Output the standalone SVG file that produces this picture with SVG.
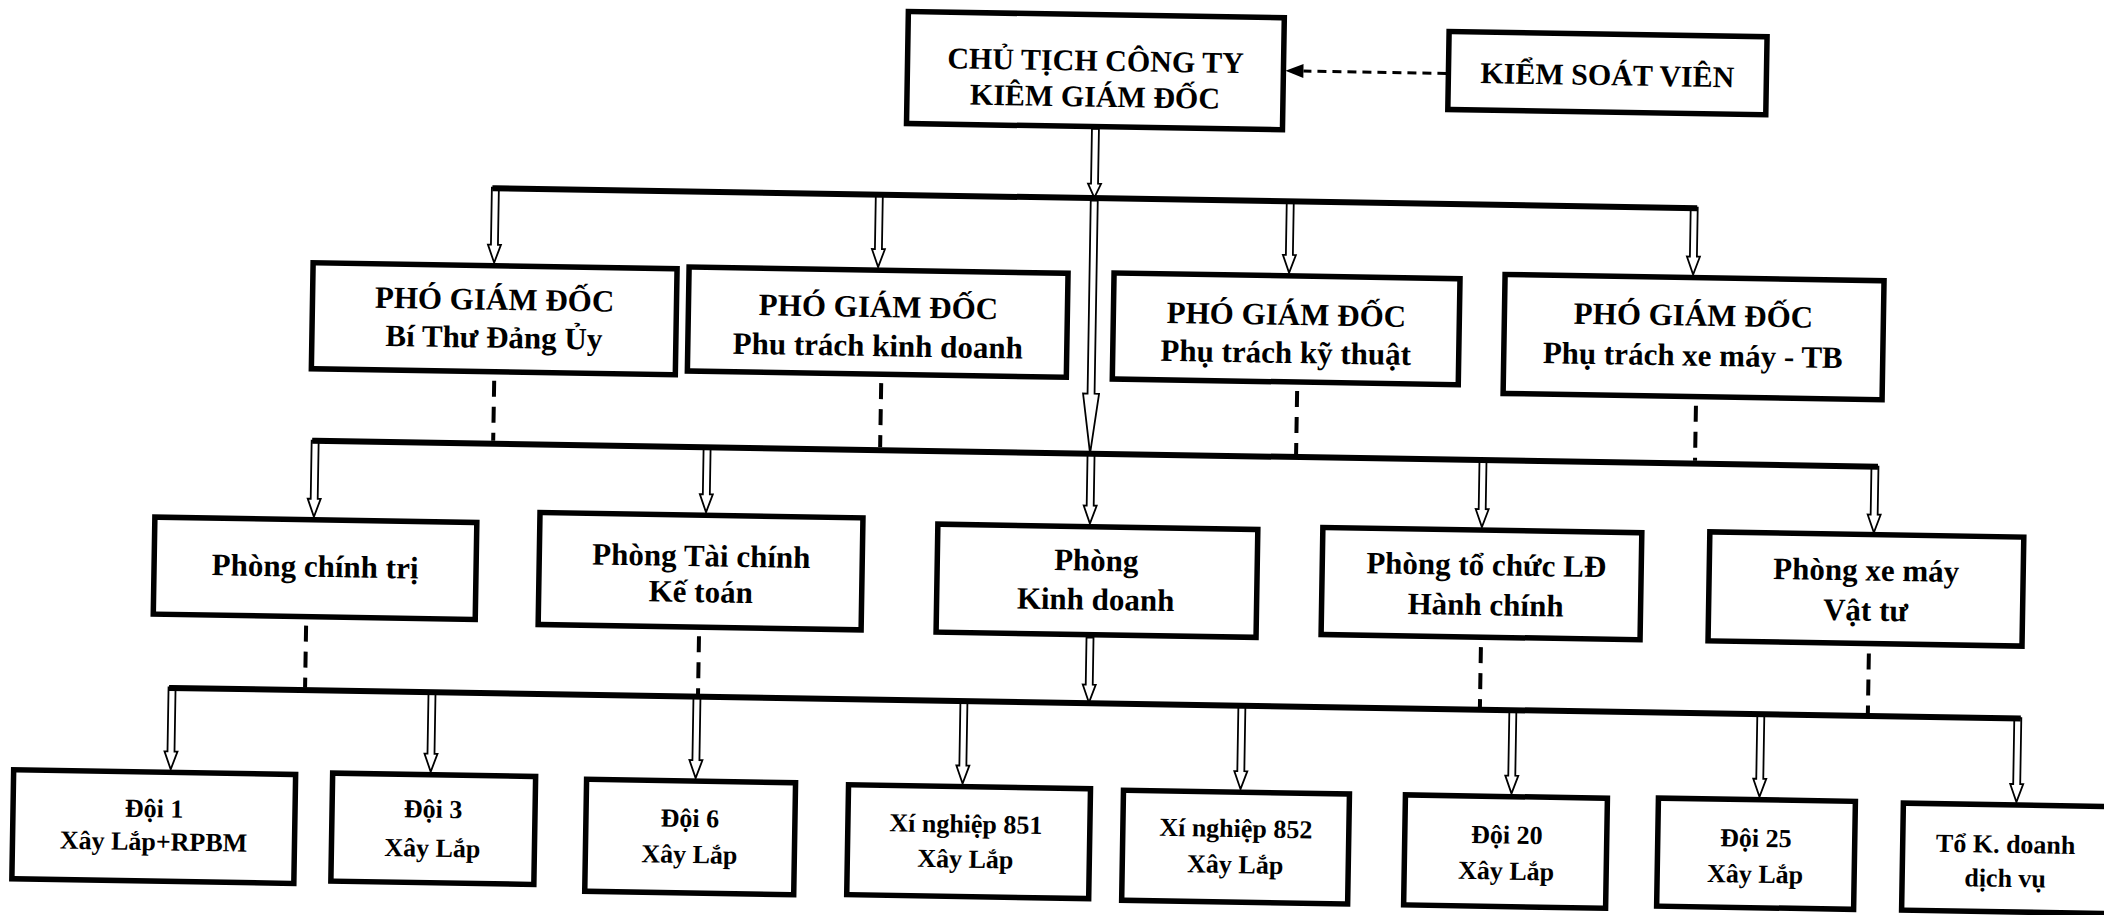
<svg xmlns="http://www.w3.org/2000/svg" width="2104" height="915" viewBox="0 0 2104 915">
<style>
.box{fill:#fff;stroke:#000;stroke-width:5.5}
.t{font-family:"Liberation Serif","Times New Roman",serif;font-weight:bold;text-anchor:middle;fill:#000}
.t1{font-size:30px}
.t2{font-size:31px}
.t3{font-size:26px}
.bus{stroke:#000;stroke-width:6;fill:none;stroke-linecap:square}
.dash{stroke:#000;stroke-width:4;stroke-dasharray:16 10;fill:none}
.kdash{stroke:#000;stroke-width:3;stroke-dasharray:9 6;fill:none}
.arr{fill:#fff;stroke:#000;stroke-width:1.8}
</style>
<rect width="2104" height="915" fill="#fff"/>
<g transform="rotate(0.95 1052 457)">
<g id="connectors">
<path class="arr" d="M1086.5 128 V183 H1083.5 L1090 197 L1096.5 183 H1093.5 V128 Z"/>
<path class="arr" d="M1086.5 200 V393 H1082 L1090 453 L1098 393 H1093.5 V200 Z"/>
<path class="arr" d="M487.5 197 V254 H484.5 L491 272 L497.5 254 H494.5 V197 Z"/>
<path class="arr" d="M871.5 197 V252 H868.5 L875 270 L881.5 252 H878.5 V197 Z"/>
<path class="arr" d="M1282.5 197 V251 H1279.5 L1286 269 L1292.5 251 H1289.5 V197 Z"/>
<path class="arr" d="M1686.5 197 V246 H1683.5 L1690 264 L1696.5 246 H1693.5 V197 Z"/>
<path class="arr" d="M311.5 453 V511 H308.5 L315 529 L321.5 511 H318.5 V453 Z"/>
<path class="arr" d="M703.5 453 V500 H700.5 L707 518 L713.5 500 H710.5 V453 Z"/>
<path class="arr" d="M1087.5 453 V505 H1084.5 L1091 523 L1097.5 505 H1094.5 V453 Z"/>
<path class="arr" d="M1479.5 453 V502 H1476.5 L1483 520 L1489.5 502 H1486.5 V453 Z"/>
<path class="arr" d="M1871.5 453 V501 H1868.5 L1875 519 L1881.5 501 H1878.5 V453 Z"/>
<path class="arr" d="M1089.5 637 V684 H1086.5 L1093 702 L1099.5 684 H1096.5 V637 Z"/>
<path class="arr" d="M172.5 702 V766 H169.5 L176 784 L182.5 766 H179.5 V702 Z"/>
<path class="arr" d="M432.5 702 V764 H429.5 L436 782 L442.5 764 H439.5 V702 Z"/>
<path class="arr" d="M697.5 702 V766 H694.5 L701 784 L707.5 766 H704.5 V702 Z"/>
<path class="arr" d="M964.5 702 V767 H961.5 L968 785 L974.5 767 H971.5 V702 Z"/>
<path class="arr" d="M1242.5 702 V768 H1239.5 L1246 786 L1252.5 768 H1249.5 V702 Z"/>
<path class="arr" d="M1513.5 702 V768 H1510.5 L1517 786 L1523.5 768 H1520.5 V702 Z"/>
<path class="arr" d="M1761.5 702 V767 H1758.5 L1765 785 L1771.5 767 H1768.5 V702 Z"/>
<path class="arr" d="M2018.5 702 V768 H2015.5 L2022 786 L2028.5 768 H2025.5 V702 Z"/>
<path class="bus" d="M491 197.5 H1690"/>
<path class="bus" d="M315 453 H1875"/>
<path class="bus" d="M176 702.5 H2022"/>
<path class="dash" d="M493 390 V450 M880 386 V450 M1296 387 V450 M1695 395 V450"/>
<path class="dash" d="M309 638 V700 M702 642 V700 M1484 640 V700 M1872 640 V700"/>
<path class="kdash" d="M1440 67 H1297"/>
<polygon points="1279,67 1297,60 1297,74" fill="#000"/>
</g>
<g id="chu-tich">
<rect class="box" x="901" y="14" width="376" height="112"/>
<text class="t t1" x="1089" y="70">CHỦ TỊCH CÔNG TY</text>
<text class="t t1" x="1089" y="106">KIÊM GIÁM ĐỐC</text>
</g>
<g id="kiem-soat-vien">
<rect class="box" x="1442" y="25" width="318" height="78"/>
<text class="t t1" x="1601" y="76">KIỂM SOÁT VIÊN</text>
</g>
<g id="pgd1">
<rect class="box" x="310" y="275" width="364" height="106"/>
<text class="t t2" x="492" y="319">PHÓ GIÁM ĐỐC</text>
<text class="t t2" x="492" y="357">Bí Thư Đảng Ủy</text>
</g>
<g id="pgd2">
<rect class="box" x="686" y="273" width="379" height="104"/>
<text class="t t2" x="876" y="320">PHÓ GIÁM ĐỐC</text>
<text class="t t2" x="876" y="359">Phu trách kinh doanh</text>
</g>
<g id="pgd3">
<rect class="box" x="1111" y="272" width="346" height="106"/>
<text class="t t2" x="1284" y="321">PHÓ GIÁM ĐỐC</text>
<text class="t t2" x="1284" y="359">Phụ trách kỹ thuật</text>
</g>
<g id="pgd4">
<rect class="box" x="1502" y="267" width="379" height="119"/>
<text class="t t2" x="1691" y="315">PHÓ GIÁM ĐỐC</text>
<text class="t t2" x="1691" y="355">Phụ trách xe máy - TB</text>
</g>
<g id="phong-chinh-tri">
<rect class="box" x="156" y="532" width="322" height="97"/>
<text class="t t2" x="317" y="589">Phòng chính trị</text>
</g>
<g id="phong-tai-chinh">
<rect class="box" x="541" y="521" width="323" height="112"/>
<text class="t t2" x="703" y="572">Phòng Tài chính</text>
<text class="t t2" x="703" y="608">Kế toán</text>
</g>
<g id="phong-kinh-doanh">
<rect class="box" x="939" y="526" width="320" height="108"/>
<text class="t t2" x="1098" y="570">Phòng</text>
<text class="t t2" x="1098" y="609">Kinh doanh</text>
</g>
<g id="phong-to-chuc">
<rect class="box" x="1324" y="523" width="319" height="107"/>
<text class="t t2" x="1488" y="568">Phòng tổ chức LĐ</text>
<text class="t t2" x="1488" y="608">Hành chính</text>
</g>
<g id="phong-xe-may">
<rect class="box" x="1711" y="521" width="314" height="109"/>
<text class="t t2" x="1868" y="567">Phòng xe máy</text>
<text class="t t2" x="1868" y="607">Vật tư</text>
</g>
<g id="doi1">
<rect class="box" x="19" y="787" width="282" height="109"/>
<text class="t t3" x="160" y="832">Đội 1</text>
<text class="t t3" x="160" y="865">Xây Lắp+RPBM</text>
</g>
<g id="doi3">
<rect class="box" x="338" y="785" width="203" height="108"/>
<text class="t t3" x="439" y="828">Đội 3</text>
<text class="t t3" x="439" y="867">Xây Lắp</text>
</g>
<g id="doi6">
<rect class="box" x="592" y="787" width="209" height="112"/>
<text class="t t3" x="696" y="833">Đội 6</text>
<text class="t t3" x="696" y="869">Xây Lắp</text>
</g>
<g id="xn851">
<rect class="box" x="854" y="788" width="242" height="110"/>
<text class="t t3" x="972" y="834">Xí nghiệp 851</text>
<text class="t t3" x="972" y="869">Xây Lắp</text>
</g>
<g id="xn852">
<rect class="box" x="1129" y="789" width="226" height="110"/>
<text class="t t3" x="1242" y="834">Xí nghiệp 852</text>
<text class="t t3" x="1242" y="870">Xây Lắp</text>
</g>
<g id="doi20">
<rect class="box" x="1411" y="789" width="202" height="110"/>
<text class="t t3" x="1513" y="836">Đội 20</text>
<text class="t t3" x="1513" y="872">Xây Lắp</text>
</g>
<g id="doi25">
<rect class="box" x="1664" y="788" width="197" height="108"/>
<text class="t t3" x="1762" y="835">Đội 25</text>
<text class="t t3" x="1762" y="871">Xây Lắp</text>
</g>
<g id="to-kinh-doanh">
<rect class="box" x="1909" y="789" width="230" height="107"/>
<text class="t t3" x="2012" y="837">Tổ K. doanh</text>
<text class="t t3" x="2012" y="871">dịch vụ</text>
</g>
</g>
</svg>
